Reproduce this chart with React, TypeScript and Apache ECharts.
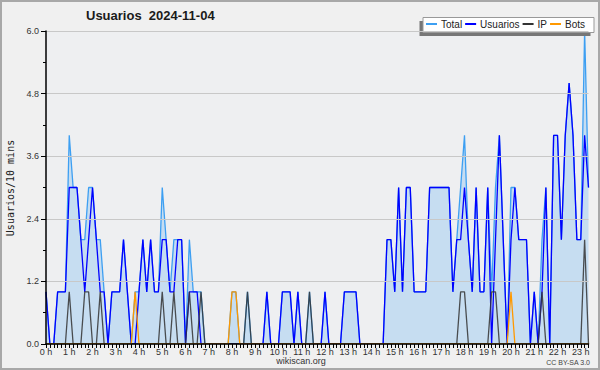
import React, { useEffect, useRef } from "react";
import * as echarts from "echarts";

const titleText = "Usuarios \u00a02024-11-04";
const yAxisTitle = "Usuarios/10 mins";
const sourceText = "wikiscan.org";
const licenseText = "CC BY-SA 3.0";
const seriesNames = ["Total", "Usuarios", "IP", "Bots"];
const seriesColors = ["#3d9ff2", "#0000ff", "#333333", "#ff9900"];

// 10-minute slots from 0:00 to 23:20
const times: string[] = [];
for (let h = 0; h < 24; h++) {
  for (let m = 0; m < 60; m += 10) {
    if (times.length < 141) times.push(`${h}:${m === 0 ? "00" : m}`);
  }
}

const total = [
  1, 0, 0, 1, 1, 1, 4, 3, 3, 2,
  2, 3, 3, 2, 2, 1, 0, 1, 1, 1,
  2, 1, 0, 1, 1, 2, 1, 2, 1, 1,
  3, 2, 1, 2, 2, 2, 0, 2, 1, 1,
  1, 0, 0, 0, 0, 0, 0, 0, 1, 1,
  0, 0, 1, 0, 0, 0, 0, 1, 0, 0,
  0, 1, 1, 1, 0, 1, 0, 0, 1, 0,
  0, 0, 1, 0, 0, 0, 0, 1, 1, 1,
  1, 0, 0, 0, 0, 0, 0, 0, 2, 2,
  1, 3, 1, 3, 3, 1, 1, 1, 1, 3,
  3, 3, 3, 3, 3, 1, 2, 3, 4, 2,
  1, 3, 1, 1, 3, 1, 3, 4, 2, 0,
  3, 3, 2, 2, 2, 0, 1, 0, 2, 3,
  0, 4, 4, 2, 4, 5, 4, 2, 2, 6, 3,
];

const usuarios = [
  1, 0, 0, 1, 1, 1, 3, 3, 3, 2,
  1, 2, 3, 2, 1, 1, 0, 1, 1, 1,
  2, 1, 0, 0, 1, 2, 1, 2, 1, 1,
  2, 2, 1, 1, 2, 2, 0, 1, 1, 1,
  0, 0, 0, 0, 0, 0, 0, 0, 0, 0,
  0, 0, 0, 0, 0, 0, 0, 1, 0, 0,
  0, 1, 1, 1, 0, 1, 0, 0, 0, 0,
  0, 0, 1, 0, 0, 0, 0, 1, 1, 1,
  1, 0, 0, 0, 0, 0, 0, 0, 2, 2,
  1, 3, 1, 3, 3, 1, 1, 1, 1, 3,
  3, 3, 3, 3, 3, 1, 2, 2, 3, 2,
  1, 3, 1, 1, 3, 0, 2, 4, 2, 0,
  2, 3, 2, 2, 2, 0, 1, 0, 1, 3,
  0, 4, 4, 2, 4, 5, 4, 2, 2, 4, 3,
];

const ip = [
  0, 0, 0, 0, 0, 0, 1, 0, 0, 0,
  1, 1, 0, 0, 1, 0, 0, 0, 0, 0,
  0, 0, 0, 0, 0, 0, 0, 0, 0, 0,
  1, 0, 0, 1, 0, 0, 0, 1, 0, 0,
  1, 0, 0, 0, 0, 0, 0, 0, 0, 0,
  0, 0, 1, 0, 0, 0, 0, 0, 0, 0,
  0, 0, 0, 0, 0, 0, 0, 0, 1, 0,
  0, 0, 0, 0, 0, 0, 0, 0, 0, 0,
  0, 0, 0, 0, 0, 0, 0, 0, 0, 0,
  0, 0, 0, 0, 0, 0, 0, 0, 0, 0,
  0, 0, 0, 0, 0, 0, 0, 1, 1, 0,
  0, 0, 0, 0, 0, 1, 1, 0, 0, 0,
  0, 0, 0, 0, 0, 0, 0, 0, 1, 0,
  0, 0, 0, 0, 0, 0, 0, 0, 0, 2, 0,
];

const bots = [
  0, 0, 0, 0, 0, 0, 0, 0, 0, 0,
  0, 0, 0, 0, 0, 0, 0, 0, 0, 0,
  0, 0, 0, 1, 0, 0, 0, 0, 0, 0,
  0, 0, 0, 0, 0, 0, 0, 0, 0, 0,
  0, 0, 0, 0, 0, 0, 0, 0, 1, 1,
  0, 0, 0, 0, 0, 0, 0, 0, 0, 0,
  0, 0, 0, 0, 0, 0, 0, 0, 0, 0,
  0, 0, 0, 0, 0, 0, 0, 0, 0, 0,
  0, 0, 0, 0, 0, 0, 0, 0, 0, 0,
  0, 0, 0, 0, 0, 0, 0, 0, 0, 0,
  0, 0, 0, 0, 0, 0, 0, 0, 0, 0,
  0, 0, 0, 0, 0, 0, 0, 0, 0, 0,
  1, 0, 0, 0, 0, 0, 0, 0, 0, 0,
  0, 0, 0, 0, 0, 0, 0, 0, 0, 0, 0,
];

const FONT = "'Liberation Sans', Arial, sans-serif";

export default function App() {
  const ref = useRef<HTMLDivElement>(null);
  useEffect(() => {
    if (!ref.current) return;
    const chart = echarts.init(ref.current, undefined, { renderer: "svg" });
    const lineSeries = (name: string, data: number[], color: string, extra: any = {}) => ({
      name,
      type: "line",
      data,
      symbol: "none",
      showSymbol: false,
      lineStyle: { color, width: 1.3 },
      itemStyle: { color },
      emphasis: { disabled: true },
      ...extra,
    });
    chart.setOption({
      animation: false,
      backgroundColor: "#f0f0f0",
      title: {
        text: titleText,
        left: 86,
        top: 9,
        padding: 0,
        textStyle: { fontFamily: FONT, fontWeight: "bold", fontSize: 13, color: "#1a1a1a" },
      },
      legend: {
        data: seriesNames,
        left: 426,
        top: 19,
        padding: 0,
        itemGap: 3,
        itemWidth: 11,
        itemHeight: 2,
        icon: "rect",
        textStyle: { fontFamily: FONT, fontSize: 10, color: "#222", padding: [0, 0, 0, -1] },
        z: 10,
      },
      grid: {
        left: 46,
        right: 11.5,
        top: 31,
        bottom: 26,
        show: true,
        backgroundColor: "#eeeff1",
        borderWidth: 0,
      },
      xAxis: {
        type: "category",
        data: times,
        boundaryGap: false,
        z: 10,
        axisLine: { lineStyle: { color: "#000", width: 1.5 } },
        axisTick: { show: true, interval: 0, length: 4, lineStyle: { color: "#000", width: 1 } },
        axisLabel: {
          interval: 5,
          margin: 3,
          fontFamily: FONT,
          fontSize: 9,
          color: "#333",
          formatter: (v: string) => `${v.split(":")[0]} h`,
        },
        splitLine: { show: false },
      },
      yAxis: {
        type: "value",
        min: 0,
        max: 6,
        interval: 1.2,
        z: 10,
        axisLine: { show: true, lineStyle: { color: "#000", width: 1.5 } },
        axisTick: { show: true, length: 5, lineStyle: { color: "#000" } },
        minorTick: { show: true, splitNumber: 2, length: 3, lineStyle: { color: "#000" } },
        axisLabel: {
          margin: 7,
          fontFamily: FONT,
          fontSize: 9,
          color: "#333",
          formatter: (v: number) => v.toFixed(1),
        },
        splitLine: { show: true, lineStyle: { color: "#c8c8c8", width: 1 } },
      },
      series: [
        lineSeries(seriesNames[0], total, seriesColors[0], {
          areaStyle: { color: "#c6ddf1", opacity: 1 },
          z: 2,
        }),
        lineSeries(seriesNames[1], usuarios, seriesColors[1], { z: 3 }),
        lineSeries(seriesNames[2], ip, seriesColors[2], { z: 4, lineStyle: { color: seriesColors[2], width: 1.3, opacity: 0.85 } }),
        lineSeries(seriesNames[3], bots, seriesColors[3], { z: 5 }),
      ],
      graphic: [
        {
          type: "rect",
          z: 100,
          shape: { x: 1, y: 1, width: 598, height: 368 },
          style: { fill: "none", stroke: "#a8a8a8", lineWidth: 2 },
          silent: true,
        },
        {
          type: "rect",
          z: 8,
          shape: { x: 419.5, y: 21, width: 171, height: 15 },
          style: { fill: "#777777" },
          silent: true,
        },
        {
          type: "rect",
          z: 9,
          shape: { x: 423, y: 17.5, width: 171, height: 15 },
          style: { fill: "#ffffff", stroke: "#999999", lineWidth: 1 },
          silent: true,
        },
        {
          type: "text",
          z: 10,
          x: 10,
          y: 188,
          rotation: Math.PI / 2,
          style: {
            text: yAxisTitle,
            fontFamily: "'DejaVu Sans Mono', monospace",
            fontSize: 10,
            fill: "#222",
            align: "center",
            verticalAlign: "middle",
          },
        },
        {
          type: "text",
          z: 10,
          x: 301,
          y: 361,
          style: {
            text: sourceText,
            fontFamily: FONT,
            fontSize: 9,
            fill: "#333",
            align: "center",
            verticalAlign: "middle",
          },
        },
        {
          type: "text",
          z: 10,
          x: 590,
          y: 362,
          style: {
            text: licenseText,
            fontFamily: FONT,
            fontSize: 7,
            fill: "#444",
            align: "right",
            verticalAlign: "middle",
          },
        },
      ],
    });
    return () => chart.dispose();
  }, []);
  return (
    <div
      ref={ref}
      style={{ position: "absolute", left: 0, top: 0, width: 600, height: 370 }}
    />
  );
}
